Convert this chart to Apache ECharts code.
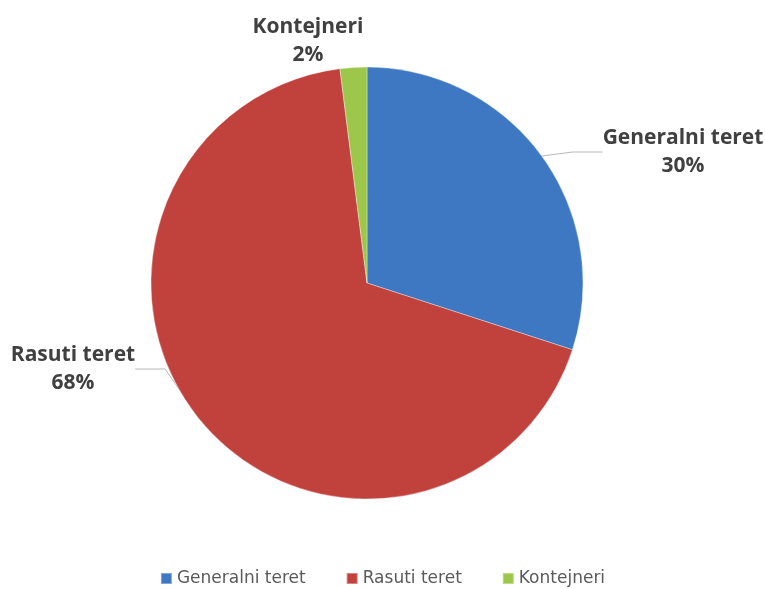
<!DOCTYPE html>
<html>
<head>
    <meta charset="utf-8">
    <title>Teret</title>
    <script src="https://cdn.jsdelivr.net/npm/echarts@6/dist/echarts.min.js"></script>
    <style>
        html, body { margin: 0; padding: 0; background: #fff; }
    </style>
</head>
<body>
    <div id="main" style="width: 765px;height:589px;"></div>
    <script type="text/javascript">
        var categories = ['Generalni teret', 'Rasuti teret', 'Kontejneri'];
        var values = [30, 68, 2];
        var colors = ['#3f78c2', '#c1423d', '#9cc74a'];

        // where each outside label sits (label anchor, not the slice)
        var labelSpots = [
            { x: 683, y: 152 },
            { x: 73, y: 369 },
            { x: 308, y: 41 }
        ];

        var myChart = echarts.init(document.getElementById('main'));

        var option = {
            color: colors,
            legend: {
                bottom: -3,
                left: 'center',
                icon: 'rect',
                itemWidth: 11,
                itemHeight: 11,
                itemGap: 40,
                textStyle: {
                    fontFamily: 'DejaVu Sans',
                    fontSize: 17,
                    color: '#5a5a5a'
                },
                data: categories
            },
            series: [{
                type: 'pie',
                center: [367, 283],
                radius: 216,
                startAngle: 90,
                clockwise: true,
                data: categories.map(function (name, i) {
                    return {
                        name: name,
                        value: values[i],
                        labelLine: { show: i !== 2 }
                    };
                }),
                itemStyle: {
                    borderColor: 'rgba(255,255,255,0.35)',
                    borderWidth: 1
                },
                label: {
                    show: true,
                    position: 'outside',
                    formatter: '{b}\n{d}%',
                    fontFamily: 'Open Sans',
                    fontWeight: 'bold',
                    fontSize: 21,
                    lineHeight: 28,
                    color: '#404040',
                    align: 'center'
                },
                labelLine: {
                    show: true,
                    lineStyle: { color: '#b8b8b8', width: 1 }
                },
                labelLayout: function (params) {
                    var s = labelSpots[params.dataIndex];
                    return {
                        x: s.x,
                        y: s.y,
                        align: 'center',
                        verticalAlign: 'middle'
                    };
                },
                emphasis: { disabled: true }
            }]
        };

        myChart.setOption(option);
    </script>
</body>
</html>
